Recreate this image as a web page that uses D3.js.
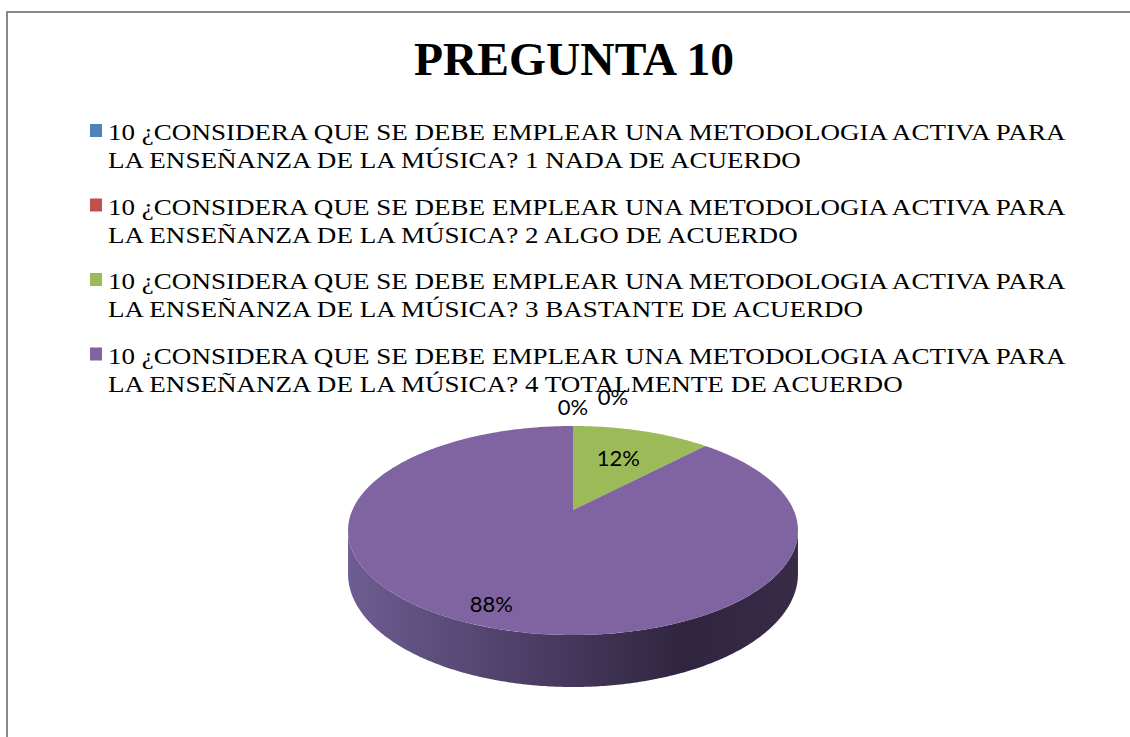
<!DOCTYPE html>
<html>
<head>
<meta charset="utf-8">
<script src="https://cdn.jsdelivr.net/npm/d3@7"></script>
<style>
  body { margin: 0; background: #fff; overflow: hidden; }
  svg { display: block; }
</style>
</head>
<body>
<div id="chart"></div>
<script>
var titleText = "PREGUNTA 10";
var questionText = "10 ¿CONSIDERA QUE SE DEBE EMPLEAR UNA METODOLOGIA ACTIVA PARA";
var categories = [
    "LA ENSEÑANZA DE LA MÚSICA? 1 NADA DE ACUERDO",
    "LA ENSEÑANZA DE LA MÚSICA? 2 ALGO DE ACUERDO",
    "LA ENSEÑANZA DE LA MÚSICA? 3 BASTANTE DE ACUERDO",
    "LA ENSEÑANZA DE LA MÚSICA? 4 TOTALMENTE DE ACUERDO"
];
var values = [0, 0, 12, 88];
var colors = ["#4F81BD", "#C0504D", "#9BBB59", "#8064A2"];

var W = 1130, H = 737;

var svg = d3.select("#chart").append("svg")
    .attr("width", W)
    .attr("height", H);

var defs = svg.append("defs");

// chart area border (only top and left edges are in view)
svg.append("path")
    .attr("d", "M7," + (H + 5) + "V12H" + (W + 5))
    .attr("fill", "none")
    .attr("stroke", "#898989")
    .attr("stroke-width", 2);

svg.append("text")
    .attr("x", 574)
    .attr("y", 75)
    .attr("text-anchor", "middle")
    .attr("textLength", 320)
    .attr("lengthAdjust", "spacingAndGlyphs")
    .style("font-family", "'Liberation Serif', 'Times New Roman', serif")
    .style("font-weight", "bold")
    .style("font-size", "47px")
    .text(titleText);

// legend
var legend = svg.append("g").attr("class", "legend");
var legendTop = 140, legendStep = 74.5, lineGap = 28.5;

var items = legend.selectAll("g.item")
    .data(categories)
    .enter()
    .append("g")
    .attr("class", "item")
    .attr("transform", function(d, i) { return "translate(0," + (legendTop + i * legendStep) + ")"; });

items.append("rect")
    .attr("x", 90)
    .attr("y", -16)
    .attr("width", 12)
    .attr("height", 13)
    .attr("fill", function(d, i) { return colors[i]; });

var textGroups = items.append("g").attr("class", "txt");

textGroups.append("text")
    .attr("y", 0)
    .text(questionText);
textGroups.append("text")
    .attr("y", lineGap)
    .text(function(d) { return d; });

textGroups.selectAll("text")
    .style("font-family", "'Liberation Serif', 'Times New Roman', serif")
    .style("font-size", "24px")
    .attr("fill", "#000");

var natural = textGroups.select("text").node().getComputedTextLength();
var sx = 958 / natural;
textGroups.attr("transform", "translate(108,0) scale(" + sx + ",1)");

// 3D pie with a little perspective
var cx = 573, cy = 510, rx = 220.6, ry = 100.5, persp = 0.196, depth = 41.8;

function proj(theta, f, drop) {
    var u = f * Math.sin(theta), v = -f * Math.cos(theta);
    var w = 1 - persp * v;
    return [cx + rx * u / w, cy + (ry * v + (drop || 0)) / w];
}

var pie = d3.pie().sort(null).value(function(d) { return d; });
var arcs = pie(values);

var frontStart = Math.acos(-persp), frontEnd = 2 * Math.PI - frontStart;

function rimPoints(a0, a1, drop) {
    var n = Math.max(2, Math.ceil((a1 - a0) / 0.01));
    var pts = [];
    for (var k = 0; k <= n; k++) {
        pts.push(proj(a0 + (a1 - a0) * k / n, 1, drop));
    }
    return pts;
}

var line = d3.line();

var sideGrad = defs.append("linearGradient")
    .attr("id", "sideGrad")
    .attr("gradientUnits", "userSpaceOnUse")
    .attr("x1", cx - rx * 1.02).attr("x2", cx + rx * 1.02)
    .attr("y1", 0).attr("y2", 0);
[["0%", "#6e5d91"], ["40%", "#4c3e66"], ["75%", "#30253f"], ["100%", "#382b48"]].forEach(function(s) {
    sideGrad.append("stop").attr("offset", s[0]).attr("stop-color", s[1]);
});

var pieG = svg.append("g").attr("class", "pie");

// side walls (front half only)
arcs.forEach(function(a, i) {
    var a0 = Math.max(a.startAngle, frontStart), a1 = Math.min(a.endAngle, frontEnd);
    if (a1 <= a0) return;
    var top = rimPoints(a0, a1, 0);
    var bottom = rimPoints(a0, a1, depth).reverse();
    pieG.append("path")
        .attr("d", line(top.concat(bottom)) + "Z")
        .attr("fill", i === 3 ? "url(#sideGrad)" : d3.color(colors[i]).darker(1.2));
});

// top faces
arcs.forEach(function(a, i) {
    if (a.endAngle - a.startAngle <= 0) return;
    var pts = [proj(0, 0)].concat(rimPoints(a.startAngle, a.endAngle, 0));
    pieG.append("path")
        .attr("d", line(pts) + "Z")
        .attr("fill", colors[i]);
});

// data labels
var total = d3.sum(values);
var labelFrac = [1.2, 1.2, 0.62, 0.85];
var zeroCount = 0;
arcs.forEach(function(a, i) {
    var mid = (a.startAngle + a.endAngle) / 2;
    var p = proj(mid, labelFrac[i]);
    if (a.value === 0) {
        p = [p[0] + zeroCount * 40, p[1] - 6 - zeroCount * 10];
        zeroCount++;
    }
    pieG.append("text")
        .attr("x", p[0])
        .attr("y", p[1])
        .attr("text-anchor", "middle")
        .attr("dominant-baseline", "central")
        .style("font-family", "Lato, 'Open Sans', sans-serif")
        .style("font-size", "22px")
        .attr("fill", "#000")
        .text(Math.round(a.value / total * 100) + "%");
});
</script>
</body>
</html>
